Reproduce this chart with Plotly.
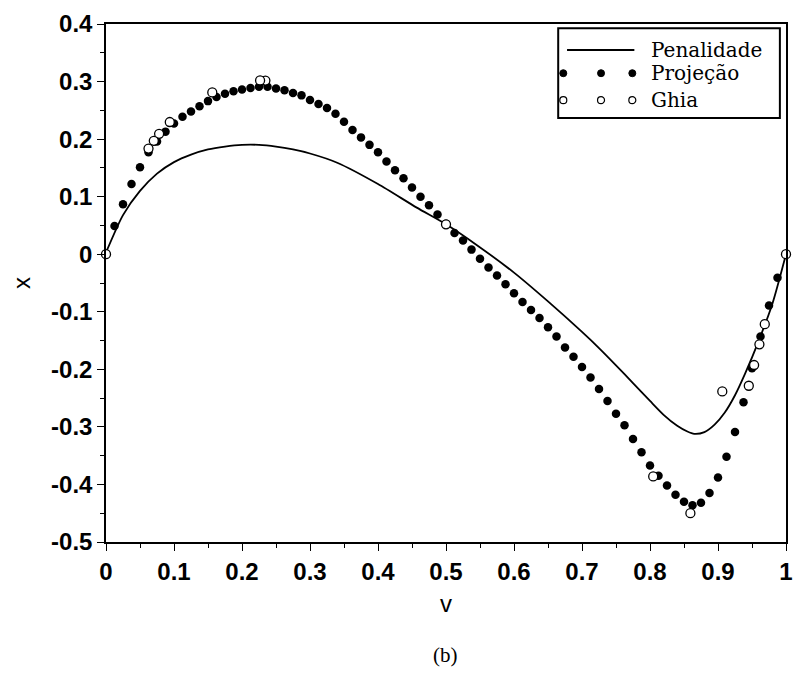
import plotly.graph_objects as go

# ---------------- data ----------------
pen_x = [0.0, 0.025, 0.05, 0.075, 0.1, 0.125, 0.15, 0.175, 0.2, 0.225, 0.25, 0.275, 0.3,
         0.34, 0.4, 0.457, 0.5, 0.544, 0.6, 0.65, 0.7, 0.725, 0.75, 0.775, 0.8,
         0.82, 0.84, 0.855, 0.865, 0.88, 0.895, 0.91, 0.925, 0.94, 0.96, 0.98, 1.0]
pen_y = [0.003, 0.068, 0.110, 0.140, 0.160, 0.173, 0.182, 0.187, 0.190, 0.190, 0.187, 0.182, 0.175,
         0.159, 0.122, 0.081, 0.052, 0.017, -0.032, -0.082, -0.135, -0.163, -0.193, -0.224, -0.255,
         -0.279, -0.298, -0.308, -0.312, -0.309, -0.296, -0.275, -0.245, -0.207, -0.150, -0.086, 0.0]

proj_x = [0.0, 0.0125, 0.025, 0.0375, 0.05, 0.0625, 0.075, 0.0875, 0.1, 0.1125,
          0.125, 0.1375, 0.15, 0.1625, 0.175, 0.1875, 0.2, 0.2125, 0.225, 0.2375,
          0.25, 0.2625, 0.275, 0.2875, 0.3, 0.3125, 0.325, 0.3375, 0.35, 0.3625,
          0.375, 0.3875, 0.4, 0.4125, 0.425, 0.4375, 0.45, 0.4625, 0.475, 0.4875,
          0.5, 0.5125, 0.525, 0.5375, 0.55, 0.5625, 0.575, 0.5875, 0.6, 0.6125,
          0.625, 0.6375, 0.65, 0.6625, 0.675, 0.6875, 0.7, 0.7125, 0.725, 0.7375,
          0.75, 0.7625, 0.775, 0.7875, 0.8, 0.8125, 0.825, 0.8375, 0.85, 0.8625,
          0.875, 0.8875, 0.9, 0.9125, 0.925, 0.9375, 0.95, 0.9625, 0.975, 0.9875, 1.0]
proj_y = [0.0, 0.049, 0.087, 0.122, 0.151, 0.177, 0.196, 0.213, 0.227, 0.239,
          0.248, 0.257, 0.266, 0.273, 0.279, 0.283, 0.286, 0.289, 0.291, 0.291,
          0.288, 0.285, 0.280, 0.276, 0.268, 0.261, 0.254, 0.244, 0.230, 0.216,
          0.203, 0.190, 0.177, 0.161, 0.146, 0.132, 0.116, 0.100, 0.085, 0.069,
          0.053, 0.037, 0.024, 0.008, -0.008, -0.023, -0.037, -0.052, -0.068, -0.083,
          -0.097, -0.111, -0.127, -0.143, -0.162, -0.178, -0.196, -0.214, -0.234, -0.255,
          -0.277, -0.297, -0.321, -0.344, -0.367, -0.385, -0.402, -0.418, -0.430, -0.436,
          -0.432, -0.415, -0.388, -0.352, -0.309, -0.257, -0.198, -0.143, -0.089, -0.041, 0.0]

ghia_x = [1.0, 0.9688, 0.9609, 0.9531, 0.9453, 0.9063, 0.8594, 0.8047, 0.5,
          0.2344, 0.2266, 0.1563, 0.0938, 0.0781, 0.0703, 0.0625, 0.0]
ghia_y = [0.0, -0.1215, -0.1566, -0.1925, -0.2285, -0.2383, -0.4499, -0.3860, 0.0519,
          0.3017, 0.3020, 0.2812, 0.2297, 0.2092, 0.1971, 0.1836, 0.0]

x_ticks = [0, 0.1, 0.2, 0.3, 0.4, 0.5, 0.6, 0.7, 0.8, 0.9, 1]
x_tick_labels = ["0", "0.1", "0.2", "0.3", "0.4", "0.5", "0.6", "0.7", "0.8", "0.9", "1"]
y_ticks = [0.4, 0.3, 0.2, 0.1, 0, -0.1, -0.2, -0.3, -0.4, -0.5]
y_tick_labels = ["0.4", "0.3", "0.2", "0.1", "0", "-0.1", "-0.2", "-0.3", "-0.4", "-0.5"]

legend_names = ["Penalidade", "Projeção", "Ghia"]
caption = "(b)"

# ---------------- figure ----------------
fig = go.Figure()
fig.add_trace(go.Scatter(x=pen_x, y=pen_y, mode="lines", name=legend_names[0],
                         line=dict(color="black", width=1.8, shape="spline", smoothing=0.7),
                         showlegend=False))
fig.add_trace(go.Scatter(x=proj_x, y=proj_y, mode="markers", name=legend_names[1],
                         marker=dict(color="black", size=8.5, line=dict(width=0)),
                         showlegend=False))
fig.add_trace(go.Scatter(x=ghia_x, y=ghia_y, mode="markers", name=legend_names[2],
                         marker=dict(color="white", size=9, line=dict(color="black", width=1.3)),
                         showlegend=False, cliponaxis=False))

sans = "Liberation Sans, Arial, sans-serif"
tick_font = dict(family=sans, size=24, color="black", weight="bold")
axis_common = dict(showgrid=False, zeroline=False, showline=True, linecolor="black",
                   linewidth=1.5, mirror=True, ticks="outside", tickcolor="black",
                   tickwidth=1.3, ticklen=7, tickfont=tick_font)

fig.update_xaxes(range=[0, 1], tickvals=x_ticks, ticktext=x_tick_labels,
                 minor=dict(dtick=0.05, ticks="outside", ticklen=4, tickcolor="black", tickwidth=1.2),
                 title=dict(text="v", font=dict(family=sans, size=24, color="black"), standoff=12),
                 **axis_common)
fig.update_yaxes(range=[-0.5, 0.4], tickvals=y_ticks, ticktext=y_tick_labels,
                 minor=dict(dtick=0.05, ticks="outside", ticklen=4, tickcolor="black", tickwidth=1.2),
                 title=dict(text="x", font=dict(family=sans, size=24, color="black"), standoff=14),
                 **axis_common)

# ---------------- custom legend (paper coordinates) ----------------
shapes = []
shapes.append(dict(type="rect", xref="paper", yref="paper", x0=0.665, x1=0.991, y0=0.8185, y1=0.992,
                   line=dict(color="black", width=2), fillcolor="white", layer="above"))
row_y = [0.950, 0.905, 0.853]
shapes.append(dict(type="line", xref="paper", yref="paper", x0=0.678, x1=0.777, y0=row_y[0], y1=row_y[0],
                   line=dict(color="black", width=2), layer="above"))
marker_xs = [0.6725, 0.728, 0.774]
for mx in marker_xs:
    shapes.append(dict(type="circle", xref="paper", yref="paper", xsizemode="pixel", ysizemode="pixel",
                       xanchor=mx, yanchor=row_y[1], x0=-3.5, x1=3.5, y0=-3.5, y1=3.5,
                       fillcolor="black", line=dict(color="black", width=1), layer="above"))
    shapes.append(dict(type="circle", xref="paper", yref="paper", xsizemode="pixel", ysizemode="pixel",
                       xanchor=mx, yanchor=row_y[2], x0=-3.5, x1=3.5, y0=-3.5, y1=3.5,
                       fillcolor="white", line=dict(color="black", width=1.2), layer="above"))

annotations = []
for name, ry in zip(legend_names, row_y):
    annotations.append(dict(text=name, xref="paper", yref="paper", x=0.799, y=ry,
                            xanchor="left", yanchor="middle", showarrow=False,
                            font=dict(family="DejaVu Serif, serif", size=20, color="black")))
annotations.append(dict(text=caption, xref="paper", yref="paper", x=0.4993, y=-0.218,
                        xanchor="center", yanchor="middle", showarrow=False,
                        font=dict(family="Liberation Serif, Times New Roman, serif", size=21, color="black")))

fig.update_layout(width=801, height=678, margin=dict(l=106, r=8, t=24, b=136),
                  plot_bgcolor="white", paper_bgcolor="white",
                  shapes=shapes, annotations=annotations, showlegend=False)

fig.write_html("out.html")
